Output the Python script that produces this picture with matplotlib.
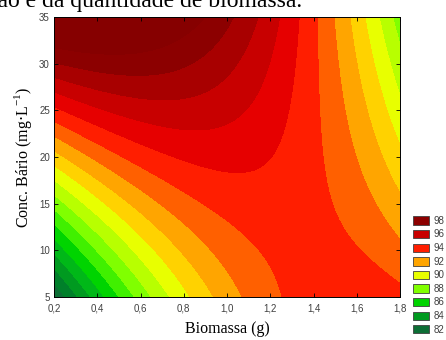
import numpy as np
import matplotlib
matplotlib.use("Agg")
import matplotlib.pyplot as plt
from matplotlib.patches import Patch

# contour crossings: biomass (g), Ba conc (mg/L), level
pt_x = [0.2, 0.2, 0.2, 0.2, 0.2, 0.2, 0.2, 0.2, 0.2, 0.2, 0.2, 0.2, 0.2, 0.2, 0.2, 0.2,
        1.0, 1.14, 1.245, 1.34, 1.43, 1.50, 1.57, 1.63, 1.71, 1.77,
        0.29, 0.35, 0.43, 0.49, 0.57, 0.64, 0.74, 0.83, 0.95, 1.09, 1.25,
        1.8, 1.8, 1.8,
        0.78, 1.01, 1.17, 1.245, 1.28,
        0.78, 1.12, 0.75, 0.92, 0.6, 0.83,
        0.78, 1.01, 1.17, 0.6,
        0.78, 0.935, 1.06, 0.78, 0.91,
        1.43, 1.46, 1.52, 1.62,
        1.61, 1.67, 1.71, 1.75, 1.675, 1.755, 1.35]
pt_y = [30.4, 28.5, 27.0, 24.8, 23.7, 22.0, 20.5, 19.5, 17.3, 15.9, 14.5, 13.0, 11.6, 10.3, 8.4, 6.6,
        35, 35, 35, 35, 35, 35, 35, 35, 35, 35,
        5, 5, 5, 5, 5, 5, 5, 5, 5, 5, 5,
        32.5, 13.5, 6.0,
        19.7, 18.3, 18.9, 21.8, 26.1,
        23.2, 26.1, 26.6, 27.2, 29.1, 29.6,
        16.1, 12.9, 9.3, 18.6,
        12.9, 10.8, 7.1, 10.0, 6.8,
        26.1, 18.9, 14.3, 9.5,
        24.5, 24.5, 24.5, 24.5, 17.3, 17.3, 14.0]
pt_z = [98, 97, 96, 95, 94, 93, 92, 91, 90, 89, 88, 87, 86, 85, 84, 83,
        98, 97, 96, 95, 94, 93, 92, 91, 90, 89,
        84, 85, 86, 87, 88, 89, 90, 91, 92, 93, 94,
        89, 93, 94,
        95, 95, 95, 95, 95,
        96, 96, 97, 97, 98, 98,
        94, 94, 94, 94,
        93, 93, 93, 92, 92,
        94, 94, 94, 94,
        93, 92, 91, 90, 93, 92, 94.6]

legend_levels = [98, 96, 94, 92, 90, 88, 86, 84, 82]
levels = [70, 82, 83, 84, 85, 86, 87, 88, 89, 90, 91, 92, 93, 94, 95, 96, 97, 98, 99, 110]
band_colors = ['#0b5a2e', '#0d6e35', '#00802a', '#009a20', '#00b818', '#00d400',
               '#40f000', '#80ff00', '#b8ff00', '#e8ff00', '#ffd200', '#ffa500',
               '#ff6000', '#ff1e00', '#e60000', '#c80000', '#a80000', '#8c0000',
               '#860000']


def basis(x, y):
    u = (np.asarray(x) - 1.0) / 0.8
    v = (np.asarray(y) - 20.0) / 15.0
    return np.stack([np.ones_like(u), u, v, u * u, u * v, v * v,
                     u ** 3, u * u * v, u * v * v, v ** 3], axis=-1)


coef, *_ = np.linalg.lstsq(basis(pt_x, pt_y), np.array(pt_z, float), rcond=None)

gx = np.linspace(0.2, 1.8, 300)
gy = np.linspace(5, 35, 300)
X, Y = np.meshgrid(gx, gy)
Z = basis(X, Y) @ coef

fig = plt.figure(figsize=(4.46, 3.40), dpi=100)
ax = fig.add_axes([54 / 446, 1 - 297 / 340, 346 / 446, 280 / 340])
ax.contourf(X, Y, Z, levels=levels, colors=band_colors)
ax.set_xlim(0.2, 1.8)
ax.set_ylim(5, 35)

xt = [0.2, 0.4, 0.6, 0.8, 1.0, 1.2, 1.4, 1.6, 1.8]
ax.set_xticks(xt)
ax.set_xticklabels([f"{v:.1f}".replace(".", ",") for v in xt])
ax.set_yticks([5, 10, 15, 20, 25, 30, 35])
ax.tick_params(direction="in", length=3, width=0.6, top=True, right=True,
               labelsize=7, labelcolor="#404040", pad=3)
ax.tick_params(axis="x", pad=5)
for lab in ax.get_xticklabels() + ax.get_yticklabels():
    lab.set_family("Liberation Sans")
for s in ax.spines.values():
    s.set_linewidth(0.7)

plt.rcParams["mathtext.fontset"] = "stix"
ax.set_xlabel("Biomassa (g)", family="Liberation Serif", fontsize=11.5, labelpad=5)
ax.set_ylabel(r"Conc. Bário (mg$\cdot$L$^{\mathregular{-1}}$)", family="Liberation Serif",
              fontsize=11.5, labelpad=4)

handles = [Patch(facecolor=band_colors[levels.index(l)], edgecolor="#404040", linewidth=0.6)
           for l in legend_levels]
leg = fig.legend(handles, [str(l) for l in legend_levels], loc="upper left",
                 bbox_to_anchor=(408 / 446, 1 - 211 / 340), frameon=False,
                 handlelength=1.65, handleheight=0.95, labelspacing=0.37,
                 handletextpad=0.5, borderpad=0,
                 prop={"family": "Liberation Sans", "size": 7})
for t in leg.get_texts():
    t.set_color("#404040")

# caption line above the chart, cut by the top edge as in the source
fig.text(302 / 446, 1 - 7 / 340, "ção e da quantidade de biomassa.", ha="right",
         va="baseline", family="Liberation Serif", fontsize=17)

fig.savefig("out.png", dpi=100)
